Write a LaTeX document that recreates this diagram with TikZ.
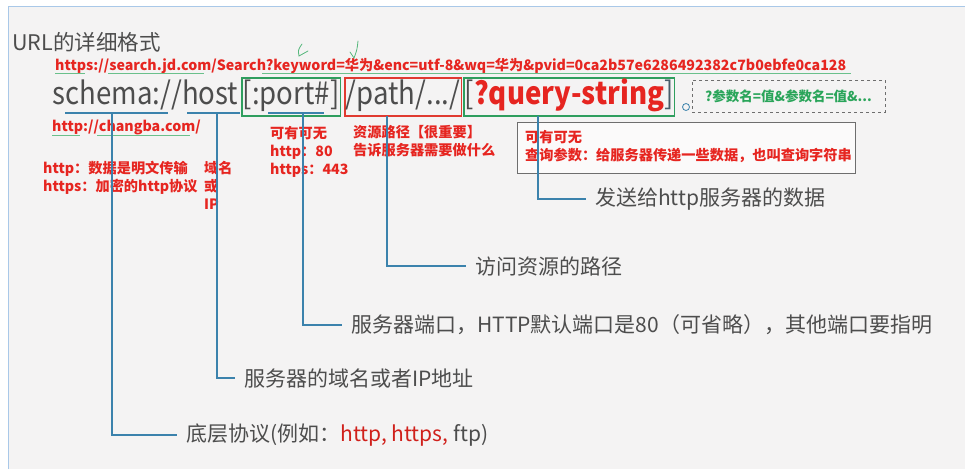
\documentclass[tikz,border=0pt]{standalone}
\usepackage{fontspec}
\setmainfont{Noto Sans CJK SC}
\newfontfamily\segfont{Noto Sans CJK SC}[FakeStretch=0.89]
\usepackage{tikz}
\usetikzlibrary{positioning}
\definecolor{ink}{HTML}{4D4D4D}
\definecolor{urlred}{HTML}{E62520}
\definecolor{darkred}{HTML}{D0201B}
\definecolor{wireblue}{HTML}{3B82AC}
\definecolor{boxgreen}{HTML}{2F9E5E}
\definecolor{txtgreen}{HTML}{2AA55A}
\definecolor{boxred}{HTML}{E03A30}
\definecolor{frame}{HTML}{6E6E6E}
\definecolor{pagebg}{HTML}{F4F3F3}
\definecolor{edge}{HTML}{A9C8E8}
\tikzset{
  seg/.style    ={inner ysep=2pt, inner xsep=1pt, text height=24pt, text depth=10pt,
                  font=\segfont\fontsize{31}{31}\selectfont, text=ink, line width=1.5pt},
  redtxt/.style ={font=\fontsize{14.2}{18}\selectfont\bfseries, text=urlred, inner sep=0pt,
                  anchor=west, align=left},
  lbl/.style    ={font=\fontsize{21}{24}\selectfont, text=ink, anchor=west, inner xsep=9pt,
                  inner ysep=0pt},
  wire/.style   ={draw=wireblue, line width=2.6pt},
  uline/.style  ={draw=txtgreen!70, line width=1pt},
  tick/.style   ={draw=txtgreen!80, line width=0.8pt, line cap=round},
}
\begin{document}
\begin{tikzpicture}[x=1pt, y=-1pt]
  \useasboundingbox (0,0) rectangle (965,469);
  \fill[pagebg] (0,0) rectangle (965,469);
  \fill[white] (0,0) rectangle (965,6);
  \fill[white] (0,0) rectangle (8,469);
  \draw[edge, line width=1pt] (8,469) -- (8,6) -- (965,6);

  % title and sample urls
  \node[font=\fontsize{21.5}{24}\selectfont, text=ink, anchor=west, inner sep=0pt] (title) at (12,42) {URL的详细格式};
  \node[redtxt] (jd) at (55,66) {https://search.jd.com/Search?keyword=华为\&enc=utf-8\&wq=华为\&pvid=0ca2b57e6286492382c7b0ebfe0ca128};
  \draw[uline] (55,73) -- (85,73);
  \draw[uline] (108,73) -- (204,73);
  \draw[uline] (262,73) -- (851,73);
  \draw[tick] (302,44) .. controls (298,50) .. (299,56) -- (308,51);
  \draw[tick] (358,41) .. controls (357,50) .. (354,58) -- (350,52);

  % url parts
  \node[seg, anchor=west, inner xsep=0pt] (sch) at (52,97) {schema://host};
  \node[seg, draw=boxgreen, right=2pt of sch] (port) {[:port\#]};
  \node[seg, draw=boxred, right=3pt of port] (path) {/path/.../};
  \node[seg, draw=boxgreen, right=1pt of path] (query) {[{\color{urlred}\bfseries ?query-string}{\color{ink!70!wireblue}]}};
  \draw[wireblue, line width=0.8pt] (686,107) circle (3.5pt);
  \node[draw=frame, dashed, line width=0.8pt, minimum width=193pt, minimum height=32pt,
        font=\fontsize{13.5}{16}\selectfont\bfseries, text=txtgreen] (params) at (788.5,96) {?参数名=值\&参数名=值\&...};

  % underlines below the parts
  \draw[wire] (65,113) -- (168,113);
  \draw[wire] (187,113) -- (240,113);
  \draw[wire] (268,113) -- (324,113);
  \coordinate (cproto) at (112,113);
  \coordinate (chost) at (217,113);
  \coordinate (cport) at (303,113);
  \coordinate (cpath) at (387,116);
  \coordinate (cquery) at (538,116);

  % red notes
  \node[redtxt] (changba) at (52,127) {http://changba.com/};
  \draw[uline] (52,135) -- (80,135);
  \draw[uline] (97,135) -- (190,135);
  \node[redtxt, anchor=north west] (proto) at (43,161) {http：数据是明文传输\\https：加密的http协议};
  \node[redtxt, anchor=north west] (domain) at (204,161) {域名\\或\\IP};
  \node[redtxt, anchor=north west] (portnote) at (270,126) {可有可无\\http：80\\https：443};
  \node[redtxt, anchor=north west] (pathnote) at (353,125) {资源路径【很重要】\\告诉服务器需要做什么};
  \node[draw=frame, fill=pagebg!40!white, line width=1.3pt, minimum width=338pt, minimum height=51pt,
        anchor=north west] (qbox) at (517,122) {};
  \node[redtxt, anchor=north west] (qnote) at (525,130) {可有可无\\查询参数：给服务器传递一些数据，也叫查询字符串};

  % labels and connectors
  \node[lbl] (lquery) at (586,199) {发送给http服务器的数据};
  \node[lbl] (lpath) at (466,266) {访问资源的路径};
  \node[lbl] (lport) at (342,325) {服务器端口，HTTP默认端口是80（可省略），其他端口要指明};
  \node[lbl] (lhost) at (235,378) {服务器的域名或者IP地址};
  \node[lbl] (lproto) at (177,435) {底层协议(例如：{\color{darkred}http, https,} ftp)};
  \draw[wire] (cquery) |- (lquery.west);
  \draw[wire] (cpath) |- (lpath.west);
  \draw[wire] (cport) |- (lport.west);
  \draw[wire] (chost) |- (lhost.west);
  \draw[wire] (cproto) |- (lproto.west);
\end{tikzpicture}
\end{document}
